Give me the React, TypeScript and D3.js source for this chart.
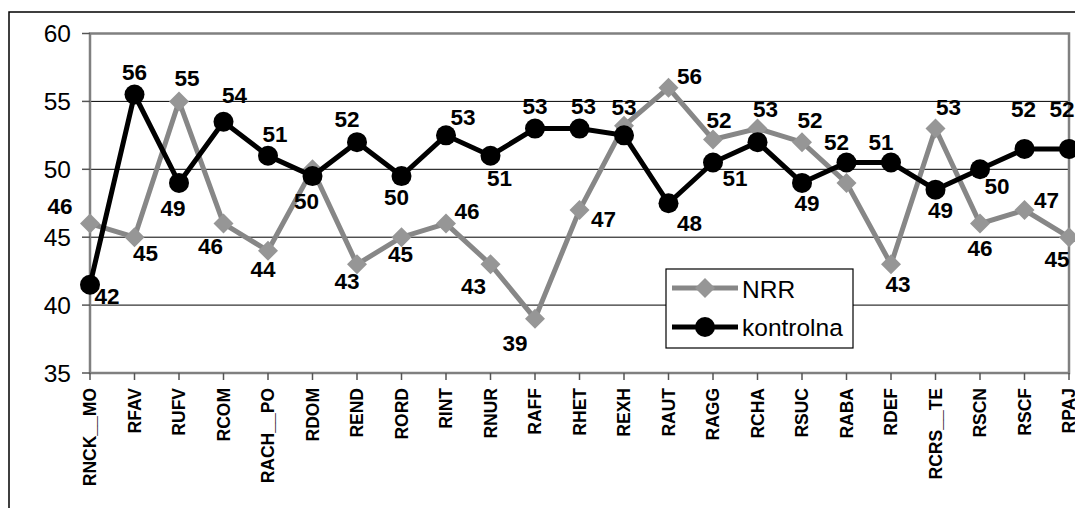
import React from "react";
import * as d3 from "d3";

const categories = ["RNCK__MO","RFAV","RUFV","RCOM","RACH__PO","RDOM","REND","RORD","RINT","RNUR","RAFF","RHET","REXH","RAUT","RAGG","RCHA","RSUC","RABA","RDEF","RCRS__TE","RSCN","RSCF","RPAJ"];
const nrrValues = [46,45,55,46,44,50,43,45,46,43,39,47,53.2,56,52.2,53,52,49,43,53,46,47,45];
const kontrolnaValues = [41.5,55.5,49,53.5,51,49.5,52,49.5,52.5,51,53,53,52.5,47.5,50.5,52,49,50.5,50.5,48.5,50,51.5,51.5];
const nrrLabels: (string | null)[] = ["46","45","55","46","44",null,"43","45","46","43","39","47","53","56","52","53","52",null,"43","53","46","47","45"];
const kontrolnaLabels: (string | null)[] = ["42","56","49","54","51","50","52","50","53","51","53","53",null,"48","51",null,"49","52","51","49","50","52","52"];
const yTicks = [35,40,45,50,55,60];
const seriesNames = ["NRR","kontrolna"];

// label placement offsets (style)
const nrrOffsets: [number, number][] = [[-30,-18],[11,16],[8,-24],[-13,22],[-5,18],[0,0],[-10,17],[-1,17],[21,-13],[-17,22],[-20,24],[24,9],[0,-19],[21,-12],[6,-20],[8,-20],[8,-22],[0,0],[7,20],[13,-22],[0,24],[22,-10],[-12,22]];
const kontrolnaOffsets: [number, number][] = [[17,11],[0,-23],[-6,25],[11,-27],[7,-22],[-6,25],[-10,-23],[-5,21],[17,-18],[9,22],[0,-23],[4,-23],[0,0],[21,20],[22,15],[0,0],[5,20],[-10,-21],[-10,-21],[5,20],[17,17],[-1,-40],[-7,-40]];

const W = 1075, H = 508;
const left = 90, right = 1069, top = 33.5, bottom = 373;
const GRAY_LINE = "#878787";
const GRAY_MARK = "#969696";
const FONT = "'Liberation Sans', Arial, sans-serif";

export default function App() {
  const x = d3.scalePoint<string>().domain(categories).range([left, right]).padding(0);
  const y = d3.scaleLinear().domain([35, 60]).range([bottom, top]);
  const line = d3.line<number>().x((_, i) => x(categories[i]) as number).y((d) => y(d));

  const diamond = (cx: number, cy: number, r: number) =>
    `M${cx},${cy - r}L${cx + r},${cy}L${cx},${cy + r}L${cx - r},${cy}Z`;

  return (
    <svg width={W} height={H} style={{ position: "absolute", left: 0, top: 0, background: "#fff" }} fontFamily={FONT}>
      <rect x={9} y={12} width={W + 10} height={H + 10} fill="#fff" stroke="#000" strokeWidth={1.5} />
      {/* gridlines */}
      {yTicks.filter((t) => t > 35 && t < 60).map((t) => (
        <line key={t} x1={left} x2={right} y1={y(t)} y2={y(t)} stroke="#000" strokeWidth={1} />
      ))}
      {/* plot border */}
      <rect x={left} y={top} width={right - left} height={bottom - top} fill="none" stroke="#808080" strokeWidth={2.5} />
      {/* y ticks */}
      {yTicks.map((t) => (
        <g key={t}>
          <line x1={left - 8} x2={left} y1={y(t)} y2={y(t)} stroke="#555" strokeWidth={1.5} />
          <text x={71} y={y(t)} dy="0.36em" textAnchor="end" fontSize={24.5} fill="#000">{t}</text>
        </g>
      ))}
      {/* x ticks and labels */}
      {categories.map((c) => {
        const cx = x(c) as number;
        return (
          <g key={c}>
            <line x1={cx} x2={cx} y1={bottom} y2={bottom + 7} stroke="#555" strokeWidth={1.5} />
            <text transform={`translate(${cx},${388}) rotate(-90)`} dy="0.36em" textAnchor="end" fontSize={17.5} fontWeight="bold" fill="#000">{c}</text>
          </g>
        );
      })}
      {/* NRR */}
      <path d={line(nrrValues) || ""} fill="none" stroke={GRAY_LINE} strokeWidth={5} strokeLinejoin="miter" />
      {nrrValues.map((v, i) => (
        <path key={i} d={diamond(x(categories[i]) as number, y(v), 10)} fill={GRAY_MARK} />
      ))}
      {/* kontrolna */}
      <path d={line(kontrolnaValues) || ""} fill="none" stroke="#000" strokeWidth={5} strokeLinejoin="miter" />
      {kontrolnaValues.map((v, i) => (
        <circle key={i} cx={x(categories[i]) as number} cy={y(v)} r={10} fill="#000" />
      ))}
      {/* labels */}
      {nrrValues.map((v, i) =>
        nrrLabels[i] ? (
          <text key={"n" + i} x={(x(categories[i]) as number) + nrrOffsets[i][0]} y={y(v) + nrrOffsets[i][1]} dy="0.36em" textAnchor="middle" fontSize={22.5} fontWeight="bold" fill="#000">{nrrLabels[i]}</text>
        ) : null
      )}
      {kontrolnaValues.map((v, i) =>
        kontrolnaLabels[i] ? (
          <text key={"k" + i} x={(x(categories[i]) as number) + kontrolnaOffsets[i][0]} y={y(v) + kontrolnaOffsets[i][1]} dy="0.36em" textAnchor="middle" fontSize={22.5} fontWeight="bold" fill="#000">{kontrolnaLabels[i]}</text>
        ) : null
      )}
      {/* legend */}
      <rect x={666} y={269} width={187} height={79} fill="#fff" stroke="#000" strokeWidth={1.2} />
      <line x1={672} x2={738} y1={288} y2={288} stroke={GRAY_LINE} strokeWidth={5} />
      <path d={diamond(705, 288, 10)} fill={GRAY_MARK} />
      <text x={742} y={289} dy="0.36em" fontSize={24.5} fill="#000">{seriesNames[0]}</text>
      <line x1={672} x2={738} y1={327} y2={327} stroke="#000" strokeWidth={5} />
      <circle cx={705} cy={327} r={10} fill="#000" />
      <text x={742} y={327} dy="0.36em" fontSize={24.5} fill="#000">{seriesNames[1]}</text>
    </svg>
  );
}
